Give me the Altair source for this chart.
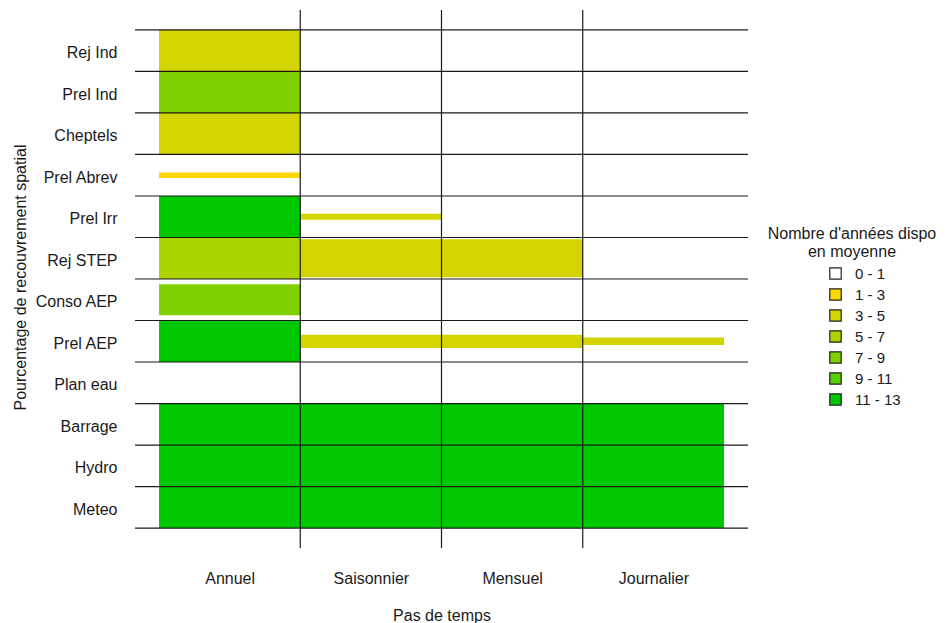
import json
import altair as alt
import pandas as pd

# ---- data ----
rows = ["Rej Ind", "Prel Ind", "Cheptels", "Prel Abrev", "Prel Irr", "Rej STEP",
        "Conso AEP", "Prel AEP", "Plan eau", "Barrage", "Hydro", "Meteo"]
steps = ["Annuel", "Saisonnier", "Mensuel", "Journalier"]
classes = ["0 - 1", "1 - 3", "3 - 5", "5 - 7", "7 - 9", "9 - 11", "11 - 13"]
class_colors = ["#FFFFFF", "#FFD700", "#D4D400", "#AAD400", "#80D000", "#55D000", "#00C800"]

# spatial coverage (% of the row) for each time step, rows top to bottom
cover_annuel = [100, 100, 100, 13, 100, 100, 75, 100, 0, 100, 100, 100]
cover_saisonnier = [0, 0, 0, 0, 14, 91, 0, 32, 0, 100, 100, 100]
cover_mensuel = [0, 0, 0, 0, 0, 91, 0, 32, 0, 100, 100, 100]
cover_journalier = [0, 0, 0, 0, 0, 0, 0, 18, 0, 100, 100, 100]

# mean number of available years (class) for each time step
years_annuel = ["3 - 5", "7 - 9", "3 - 5", "1 - 3", "11 - 13", "5 - 7", "7 - 9",
                "11 - 13", "", "11 - 13", "11 - 13", "11 - 13"]
years_saisonnier = ["", "", "", "", "3 - 5", "3 - 5", "", "3 - 5", "",
                    "11 - 13", "11 - 13", "11 - 13"]
years_mensuel = ["", "", "", "", "", "3 - 5", "", "3 - 5", "",
                 "11 - 13", "11 - 13", "11 - 13"]
years_journalier = ["", "", "", "", "", "", "", "3 - 5", "",
                    "11 - 13", "11 - 13", "11 - 13"]

covers = [cover_annuel, cover_saisonnier, cover_mensuel, cover_journalier]
years = [years_annuel, years_saisonnier, years_mensuel, years_journalier]

n = len(rows)
recs = []
for j, step in enumerate(steps):
    for i, r in enumerate(rows):
        if covers[j][i] > 0:
            recs.append({"step": step, "row": r, "col": j, "pos": n - i,
                         "cover": covers[j][i], "years": years[j][i]})
df = pd.DataFrame(recs)

vlines = pd.DataFrame({"v": list(range(1, len(steps)))})
hlines = pd.DataFrame({"h": [k + 0.5 for k in range(n + 1)]})

FONT = "Liberation Sans"
TXT = "#1a1a1a"

xscale = alt.Scale(domain=[-0.17, len(steps) + 0.17], nice=False, zero=False)
yscale = alt.Scale(domain=[0.02, n + 0.98], nice=False, zero=False)

xaxis = alt.Axis(title="Pas de temps", values=[j + 0.5 for j in range(len(steps))],
                 labelExpr=f"{json.dumps(steps)}[floor(datum.value)]",
                 grid=False, ticks=False, domain=False, labelPadding=22,
                 labelFontSize=16, labelFont=FONT, labelColor=TXT,
                 titleFontSize=16, titleFont=FONT, titleColor=TXT,
                 titleFontWeight="normal", titlePadding=21)
yaxis = alt.Axis(title="Pourcentage de recouvrement spatial", values=list(range(1, n + 1)),
                 labelExpr=f"{json.dumps(rows[::-1])}[datum.value - 1]",
                 grid=False, ticks=False, domain=False, labelPadding=18,
                 labelOffset=2,
                 labelFontSize=16, labelFont=FONT, labelColor=TXT,
                 titleFontSize=16, titleFont=FONT, titleColor=TXT,
                 titleFontWeight="normal", titleX=-115, titleY=267,
                 titleAngle=270, titleAlign="center", titleBaseline="middle")

bars = alt.Chart(df).transform_calculate(
    x0="datum.col", x1="datum.col + 1",
    y0="datum.pos - datum.cover / 200", y1="datum.pos + datum.cover / 200",
).mark_rect().encode(
    x=alt.X("x0:Q", scale=xscale, axis=xaxis),
    x2="x1:Q",
    y=alt.Y("y0:Q", scale=yscale, axis=yaxis),
    y2="y1:Q",
    fill=alt.Fill("years:N", scale=alt.Scale(domain=classes, range=class_colors),
                  legend=alt.Legend(title=["Nombre d'années dispo", "en moyenne"],
                                    orient="none", legendX=633, legendY=216,
                                    titleFont=FONT, titleFontSize=16, titleColor=TXT,
                                    titleFontWeight="normal", titleAlign="center",
                                    titleAnchor="middle", titleLineHeight=18,
                                    titlePadding=6, symbolType="square", symbolSize=130,
                                    symbolStrokeColor="#222", symbolStrokeWidth=1.2,
                                    symbolOffset=24, labelFont=FONT, labelFontSize=15,
                                    labelColor=TXT, labelOffset=12, rowPadding=4)),
)

hrules = alt.Chart(hlines).mark_rule(color="#1a1a1a", strokeWidth=1.2).encode(
    y=alt.Y("h:Q", scale=yscale, axis=yaxis))
vrules = alt.Chart(vlines).mark_rule(color="#1a1a1a", strokeWidth=1.2).encode(
    x=alt.X("v:Q", scale=xscale, axis=xaxis))

chart = alt.layer(bars, hrules, vrules).properties(
    width=613, height=538,
    autosize=alt.AutoSizeParams(type="none"),
    padding={"left": 127, "top": 2, "right": 190, "bottom": 82},
).configure_view(stroke=None)

chart.save("out.html", embed_options={"renderer": "svg", "actions": False})
